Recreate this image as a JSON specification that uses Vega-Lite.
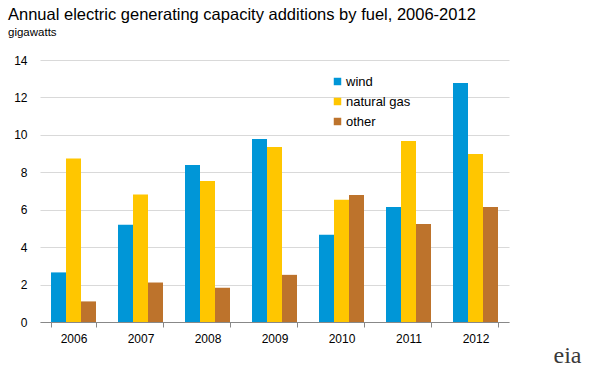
{
  "$schema": "https://vega.github.io/schema/vega-lite/v6.json",
  "width": 469,
  "height": 262,
  "autosize": "none",
  "padding": {"left": 40, "top": 60, "right": 91, "bottom": 53},
  "background": "white",
  "title": {
    "text": "Annual electric generating capacity additions by fuel, 2006-2012",
    "subtitle": "gigawatts",
    "anchor": "start",
    "frame": "group",
    "dx": -32,
    "offset": 16,
    "font": "Liberation Sans",
    "fontSize": 16.5,
    "fontWeight": "normal",
    "color": "#000000",
    "subtitleFont": "Liberation Sans",
    "subtitleFontSize": 11.5,
    "subtitleColor": "#000000",
    "subtitlePadding": 3
  },
  "data": {
    "values": [
      {"year": "2006", "fuel": "wind", "gw": 2.65},
      {"year": "2006", "fuel": "natural gas", "gw": 8.73},
      {"year": "2006", "fuel": "other", "gw": 1.1},
      {"year": "2007", "fuel": "wind", "gw": 5.19},
      {"year": "2007", "fuel": "natural gas", "gw": 6.81},
      {"year": "2007", "fuel": "other", "gw": 2.11},
      {"year": "2008", "fuel": "wind", "gw": 8.39},
      {"year": "2008", "fuel": "natural gas", "gw": 7.54},
      {"year": "2008", "fuel": "other", "gw": 1.83},
      {"year": "2009", "fuel": "wind", "gw": 9.78},
      {"year": "2009", "fuel": "natural gas", "gw": 9.35},
      {"year": "2009", "fuel": "other", "gw": 2.52},
      {"year": "2010", "fuel": "wind", "gw": 4.66},
      {"year": "2010", "fuel": "natural gas", "gw": 6.53},
      {"year": "2010", "fuel": "other", "gw": 6.79},
      {"year": "2011", "fuel": "wind", "gw": 6.15},
      {"year": "2011", "fuel": "natural gas", "gw": 9.67},
      {"year": "2011", "fuel": "other", "gw": 5.24},
      {"year": "2012", "fuel": "wind", "gw": 12.77},
      {"year": "2012", "fuel": "natural gas", "gw": 8.98},
      {"year": "2012", "fuel": "other", "gw": 6.15}
    ]
  },
  "mark": {"type": "bar", "width": {"band": 1}},
  "encoding": {
    "x": {
      "field": "year",
      "type": "nominal",
      "scale": {"paddingInner": 0.328358, "paddingOuter": 0.164179},
      "axis": {
        "title": "eia",
        "titleFont": "Liberation Serif",
        "titleFontSize": 24,
        "titleFontWeight": "normal",
        "titleColor": "#3a3a3a",
        "titleAnchor": "start",
        "titleAlign": "left",
        "titleBaseline": "alphabetic",
        "titleX": 513,
        "titleY": 40,
        "labelAngle": 0,
        "labelFont": "Liberation Sans",
        "labelFontSize": 12,
        "labelColor": "#000000",
        "labelPadding": 6,
        "domainColor": "#888888",
        "tickColor": "#888888",
        "tickSize": 5,
        "tickBand": "extent",
        "grid": false
      }
    },
    "xOffset": {
      "field": "fuel",
      "type": "nominal",
      "sort": ["wind", "natural gas", "other"],
      "scale": {"paddingInner": 0, "paddingOuter": 0}
    },
    "y": {
      "field": "gw",
      "type": "quantitative",
      "scale": {"domain": [0, 14], "nice": false},
      "axis": {
        "title": null,
        "values": [0, 2, 4, 6, 8, 10, 12, 14],
        "domain": false,
        "ticks": false,
        "grid": true,
        "gridColor": "#d9d9d9",
        "labelFont": "Liberation Sans",
        "labelFontSize": 12,
        "labelColor": "#000000",
        "labelPadding": 13
      }
    },
    "color": {
      "field": "fuel",
      "type": "nominal",
      "sort": ["wind", "natural gas", "other"],
      "scale": {"domain": ["wind", "natural gas", "other"], "range": ["#0096d7", "#ffc600", "#bd732c"]},
      "legend": {
        "title": null,
        "orient": "none",
        "legendX": 291,
        "legendY": 15,
        "symbolType": "square",
        "symbolSize": 56,
        "symbolStrokeWidth": 0,
        "labelFont": "Liberation Sans",
        "labelFontSize": 13,
        "labelColor": "#000000",
        "labelOffset": 2,
        "rowPadding": 6
      }
    }
  },
  "config": {"view": {"stroke": null}}
}
